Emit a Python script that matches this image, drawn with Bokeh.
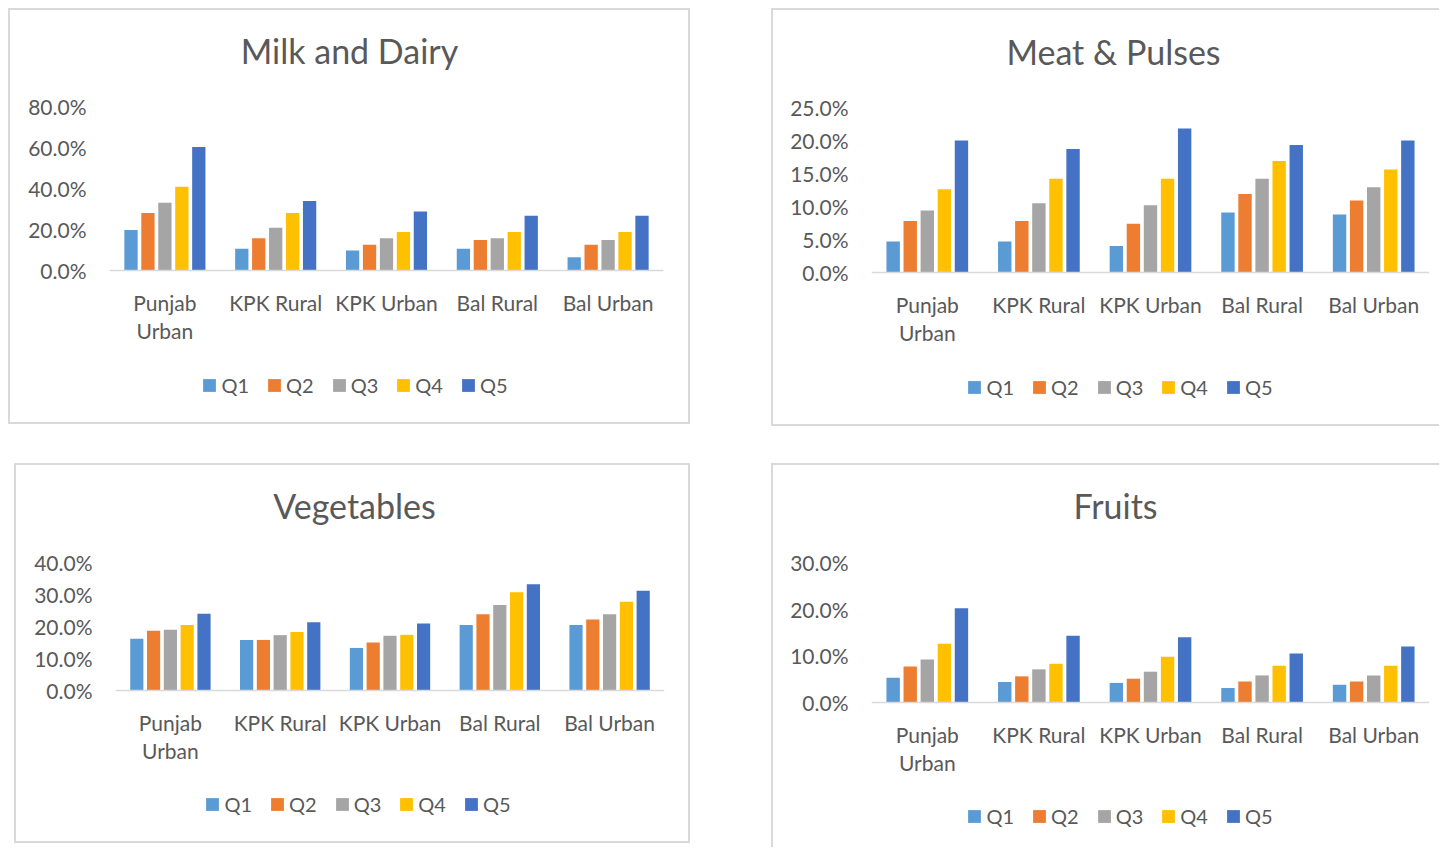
from bokeh.plotting import figure
from bokeh.models import (ColumnDataSource, FactorRange, Range1d, FixedTicker,
                          PrintfTickFormatter, Legend, LegendItem, Label, Spacer,
                          CategoricalAxis, CustomJSTickFormatter)
from bokeh.layouts import row, column
from bokeh.transform import dodge
from bokeh.embed import file_html
from bokeh.resources import INLINE

# ---------------- data (percent) ----------------
regions = ["Punjab Urban", "KPK Rural", "KPK Urban", "Bal Rural", "Bal Urban"]
quintiles = ["Q1", "Q2", "Q3", "Q4", "Q5"]

milk_q1 = [19.8, 10.6, 9.7, 10.6, 6.5]
milk_q2 = [28.0, 15.7, 12.6, 14.9, 12.6]
milk_q3 = [33.0, 20.8, 15.7, 15.7, 14.9]
milk_q4 = [40.8, 28.0, 18.8, 18.8, 18.8]
milk_q5 = [60.2, 33.9, 28.8, 26.7, 26.7]

meat_q1 = [4.7, 4.7, 4.0, 9.1, 8.8]
meat_q2 = [7.8, 7.8, 7.4, 11.9, 10.9]
meat_q3 = [9.4, 10.5, 10.2, 14.2, 12.9]
meat_q4 = [12.6, 14.2, 14.2, 16.9, 15.6]
meat_q5 = [20.0, 18.7, 21.8, 19.3, 20.0]

veg_q1 = [16.2, 15.8, 13.3, 20.5, 20.5]
veg_q2 = [18.7, 15.8, 15.0, 23.8, 22.2]
veg_q3 = [19.0, 17.3, 17.1, 26.7, 23.8]
veg_q4 = [20.5, 18.3, 17.4, 30.7, 27.7]
veg_q5 = [24.0, 21.3, 20.9, 33.2, 31.2]

fruit_q1 = [5.3, 4.4, 4.2, 3.1, 3.8]
fruit_q2 = [7.7, 5.6, 5.1, 4.5, 4.5]
fruit_q3 = [9.2, 7.1, 6.6, 5.8, 5.8]
fruit_q4 = [12.6, 8.3, 9.8, 7.9, 7.9]
fruit_q5 = [20.2, 14.3, 14.0, 10.5, 12.0]

milk_ticks = [0, 20, 40, 60, 80]
meat_ticks = [0, 5, 10, 15, 20, 25]
veg_ticks = [0, 10, 20, 30, 40]
fruit_ticks = [0, 10, 20, 30]

# ---------------- styles ----------------
COLORS = ["#5B9BD5", "#ED7D31", "#A5A5A5", "#FFC000", "#4472C4"]
TXT = "#595959"
FONT = "Lato"
BORDER = "2px solid #D9D9D9"
OFFSETS = [-0.306, -0.153, 0.0, 0.153, 0.306]
BAR_W = 0.12


def make_panel(title, series, ticks, w, h, fl, fr, ft, fb, title_xy, legend_xy, styles):
    """All geometry in canvas px. fl/fr: frame left/right, ft/fb: pixel rows of
    the top tick and of zero. The frame spans the full canvas height so the title
    and legend (drawn inside it) are not clipped."""
    data = {"region": regions}
    for q, s in zip(quintiles, series):
        data[q] = s
    src = ColumnDataSource(data)

    ymax = ticks[-1]
    s = (fb - ft) / ymax  # px per percent
    y_start = -(h - fb) / s
    y_end = ymax + ft / s

    p = figure(width=w, height=h, output_backend="svg", toolbar_location=None,
               title=None,
               x_range=FactorRange(factors=regions, range_padding=0),
               y_range=Range1d(y_start, y_end),
               min_border_left=fl, min_border_right=w - fr,
               min_border_top=0, min_border_bottom=0,
               styles=styles)
    p.outline_line_color = None
    p.background_fill_color = "white"
    p.border_fill_color = "white"
    p.xgrid.visible = False
    p.ygrid.visible = False

    renderers = []
    for q, off, c in zip(quintiles, OFFSETS, COLORS):
        r = p.vbar(x=dodge("region", off, range=p.x_range), top=q, bottom=0,
                   width=BAR_W, source=src, fill_color=c, line_color=None)
        renderers.append(r)

    # y axis
    p.yaxis.ticker = FixedTicker(ticks=ticks)
    p.yaxis.formatter = PrintfTickFormatter(format="%.1f%%")
    p.yaxis.axis_line_color = None
    p.yaxis.major_tick_line_color = None
    p.yaxis.minor_tick_line_color = None
    p.yaxis.major_tick_out = 0
    p.yaxis.major_tick_in = 0
    p.yaxis.major_label_standoff = 23
    p.yaxis.major_label_text_font = FONT
    p.yaxis.major_label_text_font_size = "21px"
    p.yaxis.major_label_text_color = TXT

    # x axis at y = 0 (first line of category labels)
    xa = p.xaxis[0]
    xa.fixed_location = 0
    xa.axis_line_color = "#D9D9D9"
    xa.axis_line_width = 1.5
    xa.major_tick_line_color = None
    xa.minor_tick_line_color = None
    xa.major_tick_out = 0
    xa.major_tick_in = 0
    xa.major_label_standoff = 19
    xa.major_label_text_font = FONT
    xa.major_label_text_font_size = "21px"
    xa.major_label_text_color = TXT
    xa.formatter = CustomJSTickFormatter(
        code="return tick == 'Punjab Urban' ? 'Punjab' : tick;")

    # second line of the wrapped category label
    ax2 = CategoricalAxis(fixed_location=0, axis_line_color=None,
                          major_tick_line_color=None, minor_tick_line_color=None,
                          major_tick_out=0, major_tick_in=0,
                          major_label_standoff=47, major_label_text_font=FONT,
                          major_label_text_font_size="21px", major_label_text_color=TXT,
                          formatter=CustomJSTickFormatter(
                              code="return tick == 'Punjab Urban' ? 'Urban' : '';"))
    p.add_layout(ax2, "below")

    # title (screen units are relative to the frame's bottom-left corner)
    tx, ty = title_xy
    p.add_layout(Label(x=tx - fl, y=h - ty, x_units="screen", y_units="screen",
                       text=title, text_align="center", text_baseline="middle",
                       text_font=FONT, text_font_size="34px", text_color=TXT))

    # legend
    lx, ly = legend_xy
    leg_h = 24
    legend = Legend(items=[LegendItem(label=q, renderers=[r]) for q, r in zip(quintiles, renderers)],
                    location=(lx - 1.6 - fl, h - ly - leg_h / 2),
                    orientation="horizontal", glyph_width=16, glyph_height=16,
                    label_standoff=4, spacing=17, padding=0, margin=0,
                    border_line_color=None, background_fill_alpha=0,
                    label_text_font=FONT, label_text_font_size="20px",
                    label_text_color=TXT)
    p.add_layout(legend)
    return p


# canvas origin = host corner + 2px border
p1 = make_panel("Milk and Dairy", [milk_q1, milk_q2, milk_q3, milk_q4, milk_q5], milk_ticks,
                682, 416, 99, 653, 96, 260, (339, 40), (193, 375),
                {"border": BORDER})
p2 = make_panel("Meat & Pulses", [meat_q1, meat_q2, meat_q3, meat_q4, meat_q5], meat_ticks,
                668, 418, 98, 656, 97, 262, (340, 41), (195, 377),
                {"border-left": BORDER, "border-top": BORDER, "border-bottom": BORDER})
p3 = make_panel("Vegetables", [veg_q1, veg_q2, veg_q3, veg_q4, veg_q5], veg_ticks,
                676, 380, 99, 648, 97, 225, (338, 40), (190, 339),
                {"border": BORDER})
p4 = make_panel("Fruits", [fruit_q1, fruit_q2, fruit_q3, fruit_q4, fruit_q5], fruit_ticks,
                668, 384, 98, 656, 97, 237, (342, 40), (195, 351),
                {"border-left": BORDER, "border-top": BORDER})

left_col = column(Spacer(width=10, height=8), p1, Spacer(width=10, height=39),
                  row(Spacer(width=6, height=10), p3))
right_col = column(Spacer(width=10, height=8), p2, Spacer(width=10, height=37), p4)
layout = row(Spacer(width=8, height=10), left_col, Spacer(width=81, height=10), right_col)

open("out.html", "w").write(file_html(layout, INLINE))
